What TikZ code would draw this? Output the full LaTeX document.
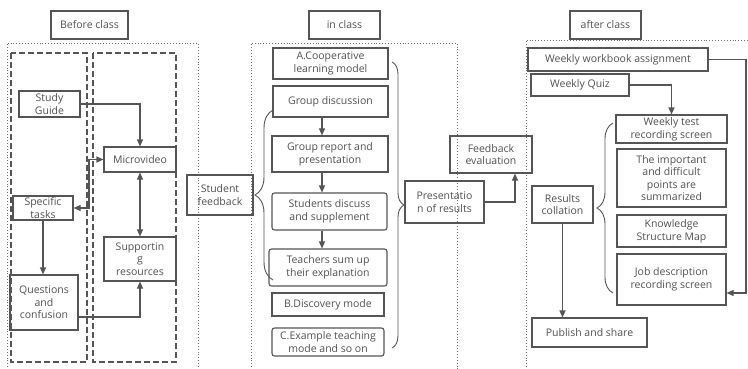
\documentclass[tikz,border=0pt]{standalone}
\usepackage{fontspec}
\setmainfont{Open Sans}
\usetikzlibrary{arrows.meta,decorations.pathreplacing,calc}
\definecolor{ln}{HTML}{555555}
\definecolor{tx}{HTML}{505050}
\begin{document}
\begin{tikzpicture}[x=1pt,y=-1pt,
  box/.style={draw=ln,line width=1.1pt,text=tx,align=center,inner sep=1pt,font=\fontsize{10.5}{12.6}\selectfont},
  rbox/.style={box,rounded corners=2.5pt},
  tip/.style={Triangle[length=7pt,width=6pt]},
  arr/.style={draw=ln,line width=1.1pt,-{Triangle[length=7pt,width=6pt]}},
  arrtwo/.style={draw=ln,line width=1.1pt,{Triangle[length=7pt,width=6pt]}-{Triangle[length=7pt,width=6pt]}},
  dots/.style={draw=ln!85,line width=0.9pt,dotted},
  dashbox/.style={draw=ln,line width=1.1pt,dash pattern=on 6pt off 3pt},
  brc/.style={draw=ln,line width=0.9pt,decorate,decoration={brace,amplitude=#1}},
]
\useasboundingbox (0,0) rectangle (748,368);

% frames
\draw[dots] (7,370) -- (7,43) -- (198,43) -- (198,370);
\draw[dots] (251,370) -- (251,43) -- (457,43) -- (457,370);
\draw[dots] (526,370) -- (526,40) -- (752,40);
\draw[dashbox] (11,53) rectangle (87,362);
\draw[dashbox] (93,53) rectangle (176,362);

% headers
\node[box,minimum width=77,minimum height=28] (before) at (89.5,25) {Before class};
\node[box,minimum width=71,minimum height=28] (inclass) at (344.5,25) {in class};
\node[box,minimum width=71,minimum height=28] (after) at (605.5,25) {after class};

% before class
\node[box,minimum width=61,minimum height=26] (guide) at (49.5,104) {Study\\Guide};
\node[box,minimum width=72,minimum height=25] (micro) at (140,159.5) {Microvideo};
\node[box,minimum width=60,minimum height=24] (tasks) at (43,208) {Specific\\tasks};
\node[box,minimum width=72,minimum height=44] (support) at (140,259) {Supportin\\g\\resources};
\node[box,minimum width=68,minimum height=55] (quest) at (44,302.5) {Questions\\and\\confusion};
\node[box,minimum width=66,minimum height=40] (sfb) at (220,195) {Student\\feedback};

\coordinate (j1) at (89,0);
\coordinate (q1) at (0,317);
\draw[arr] (guide.east) -| (micro.north);
\draw[arrtwo] (tasks.east) -- (tasks.east -| j1) |- (micro.west);
\draw[arrtwo] (micro.south) -- (support.north);
\draw[arr] (tasks.south) -- (tasks.south |- quest.north);
\draw[arr] (quest.east |- q1) -| (support.south);

% in class
\node[box,minimum width=115,minimum height=31] (coop) at (330.5,63.5) {A.Cooperative\\learning model};
\node[box,minimum width=115,minimum height=31] (gdisc) at (330.5,101.5) {Group discussion};
\node[box,minimum width=116,minimum height=36] (grep) at (330,154) {Group report and\\presentation};
\node[rbox,minimum width=115,minimum height=37] (sdisc) at (329.5,211.5) {Students discuss\\and supplement};
\node[rbox,minimum width=118,minimum height=37] (teach) at (328,267.5) {Teachers sum up\\their explanation};
\node[box,minimum width=112,minimum height=23] (bdisc) at (328,304.5) {B.Discovery mode};
\node[rbox,minimum width=112,minimum height=28] (cex) at (328,342) {C.Example teaching\\mode and so on};
\node[box,minimum width=79,minimum height=42] (pres) at (444.5,202) {Presentatio\\n of results};
\node[box,minimum width=82,minimum height=37] (feval) at (491,154.5) {Feedback\\evaluation};

\coordinate (c1) at (322,0);
\coordinate (c2) at (515,0);
\draw[arr] (gdisc.south -| c1) -- (grep.north -| c1);
\draw[arr] (grep.south -| c1) -- (sdisc.north -| c1);
\draw[arr] (sdisc.south -| c1) -- (teach.north -| c1);
\draw[arr] (pres.east) -| (feval.south -| c2);

\draw[brc=18] (273,280) -- (273,110);
\draw[brc=12] (392,62) -- (392,348);

% after class
\node[box,minimum width=180,minimum height=23] (wwb) at (618,59.5) {Weekly workbook assignment};
\node[box,minimum width=98,minimum height=22] (wquiz) at (580,85) {Weekly Quiz};
\node[box,minimum width=111,minimum height=28] (wtest) at (671.5,129) {Weekly test\\recording screen};
\node[box,minimum width=109,minimum height=58] (impt) at (671.5,178) {The important\\and difficult\\points are\\summarized};
\node[box,minimum width=109,minimum height=32] (kmap) at (671.5,231) {Knowledge\\Structure Map};
\node[box,minimum width=109,minimum height=51] (job) at (671.5,279.5) {Job description\\recording screen};
\node[box,minimum width=61,minimum height=37] (rcoll) at (562.5,204.5) {Results\\collation};
\node[box,minimum width=115,minimum height=29] (pub) at (589.5,332.5) {Publish and share};

\coordinate (c4) at (746,293);
\draw[arr] (wquiz.east) -| (wtest.north);
\draw[arr] (wwb.east) -| (c4) -- (job.east |- c4);
\draw[arr] (rcoll.south) -- (rcoll.south |- pub.north);
\draw[brc=16] (613,293) -- (613,123);
\end{tikzpicture}
\end{document}
